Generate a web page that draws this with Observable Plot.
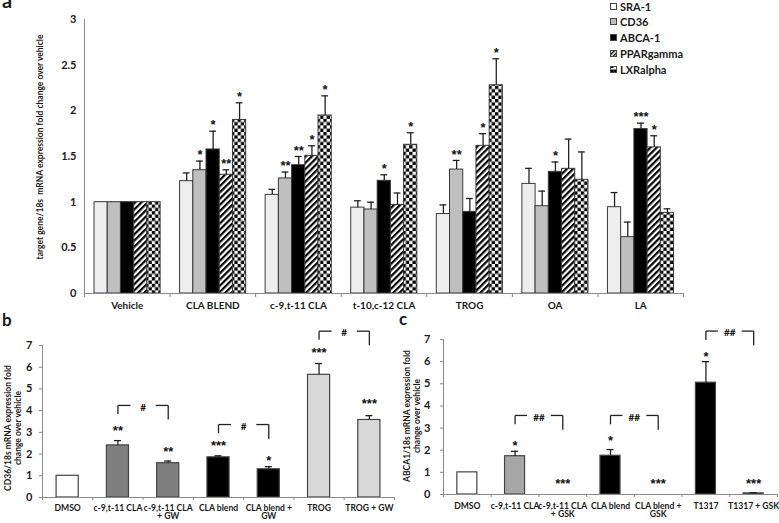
<!DOCTYPE html>
<html><head><meta charset="utf-8">
<script src="https://cdn.jsdelivr.net/npm/d3@7"></script>
<script src="https://cdn.jsdelivr.net/npm/@observablehq/plot@0.6"></script>
<style>
body{margin:0;background:#fff;font-family:Lato,sans-serif;color:#1a1a1a;}
#fig{position:relative;width:779px;height:523px;overflow:hidden;background:#fff;}
.panel{position:absolute;}
.plabel{position:absolute;font-weight:bold;font-family:Lato,sans-serif;line-height:1;}
.vlabel{position:absolute;transform:translate(-50%,-50%) rotate(-90deg);white-space:pre;text-align:center;font-weight:bold;font-family:Lato,sans-serif;}
.legend{position:absolute;left:610px;top:0;font:bold 11px Lato,sans-serif;}
.legend .row{position:absolute;left:0;height:14px;display:flex;align-items:center;white-space:nowrap;}
.legend svg{margin-right:3px;}
</style></head><body>
<svg width="0" height="0" style="position:absolute"><defs>
<pattern id="hatch" patternUnits="userSpaceOnUse" width="4.4" height="4.4" patternTransform="rotate(45)"><rect width="4.4" height="4.4" fill="#fff"/><rect width="2.2" height="4.4" fill="#000"/></pattern>
<pattern id="checker" patternUnits="userSpaceOnUse" width="6.6" height="6.6"><rect width="6.6" height="6.6" fill="#fff"/><rect width="3.3" height="3.3" fill="#000"/><rect x="3.3" y="3.3" width="3.3" height="3.3" fill="#000"/></pattern>
<pattern id="hatchS" patternUnits="userSpaceOnUse" width="3" height="3" patternTransform="rotate(45)"><rect width="3" height="3" fill="#fff"/><rect width="1.4" height="3" fill="#000"/></pattern>
<pattern id="checkerS" patternUnits="userSpaceOnUse" width="7" height="7"><rect width="7" height="7" fill="#fff"/><rect y="3.5" width="3.5" height="3.5" fill="#000"/><rect x="3.5" y="3.5" width="3.5" height="3.5" fill="#000"/><rect x="0" y="0" width="3.5" height="2" fill="#000"/></pattern>
</defs></svg>
<div id="fig"></div>
<script>
// ---------- Panel a data ----------
const categoriesA = ["Vehicle","CLA BLEND","c-9,t-11 CLA","t-10,c-12 CLA","TROG","OA","LA"];
const seriesA = ["SRA-1","CD36","ABCA-1","PPARgamma","LXRalpha"];
const sra1      = [1, 1.23, 1.08, 0.94, 0.87, 1.20, 0.945];
const sra1Err   = [0, 0.09, 0.06, 0.075, 0.10, 0.17, 0.16];
const cd36      = [1, 1.35, 1.26, 0.92, 1.357, 0.956, 0.617];
const cd36Err   = [0, 0.10, 0.07, 0.08, 0.10, 0.165, 0.165];
const abca1     = [1, 1.577, 1.405, 1.234, 0.894, 1.332, 1.80];
const abca1Err  = [0, 0.20, 0.095, 0.066, 0.146, 0.108, 0.065];
const pparg     = [1, 1.30, 1.507, 0.97, 1.617, 1.365, 1.60];
const ppargErr  = [0, 0.054, 0.11, 0.13, 0.133, 0.325, 0.127];
const lxra      = [1, 1.90, 1.949, 1.628, 2.28, 1.245, 0.883];
const lxraErr   = [0, 0.188, 0.215, 0.132, 0.29, 0.305, 0.044];
const sra1Sig   = ["","","","","","",""];
const cd36Sig   = ["","*","**","","**","",""];
const abca1Sig  = ["","*","**","*","","*","***"];
const ppargSig  = ["","**","*","","*","","*"];
const lxraSig   = ["","*","*","*","*","",""];
const yTicksA = [0, 0.5, 1, 1.5, 2, 2.5, 3];

// ---------- Panel b data ----------
const groupsB = ["DMSO","c-9,t-11 CLA","c-9,t-11 CLA\n+ GW","CLA blend","CLA blend +\nGW","TROG","TROG + GW"];
const valuesB = [1, 2.4, 1.58, 1.85, 1.3, 5.65, 3.57];
const errorsB = [0, 0.22, 0.1, 0.07, 0.12, 0.52, 0.2];
const sigB    = ["","**","**","***","*","***","***"];
const sigYB   = [0, 3.24, 2.27, 2.55, 1.86, 6.85, 4.5];
const bracketsB = [{from:1, to:2, y:4.24, label:"#"}, {from:3, to:4, y:3.36, label:"#"}, {from:5, to:6, y:7.66, label:"#"}];

// ---------- Panel c data ----------
const groupsC = ["DMSO","c-9,t-11 CLA","c-9,t-11 CLA\n+ GSK","CLA blend","CLA blend +\nGSK","T1317","T1317 + GSK"];
const valuesC = [1, 1.73, 0, 1.75, 0, 5.05, 0.05];
const errorsC = [0, 0.22, 0, 0.28, 0, 0.95, 0.03];
const sigC    = ["","*","***","*","***","*","***"];
const sigYC   = [0, 2.39, 0.68, 2.62, 0.68, 6.38, 0.68];
const bracketsC = [{from:1, to:2, y:3.57, label:"##"}, {from:3, to:4, y:3.57, label:"##"}, {from:5, to:6, y:7.38, label:"##"}];
const yTicksBC = [0,1,2,3,4,5,6,7];

// ---------- styles ----------
const fillsA = ["#eeeeee","#bfbfbf","#000000","url(#hatch)","url(#checker)"];
const swatchA = ["#ffffff","#bfbfbf","#000000","url(#hatchS)","url(#checkerS)"];
const colorsB = ["#ffffff","#7f7f7f","#7f7f7f","#000000","#000000","#d9d9d9","#d9d9d9"];
const colorsC = ["#ffffff","#a6a6a6","#a6a6a6","#000000","#000000","#000000","#000000"];
const AX = "#8a8a8a";
const TXT = "#1a1a1a";
const FONT = "Lato, sans-serif";
const STARFONT = "Liberation Sans, sans-serif";

function fontAvailable(name) {
  const c = document.createElement("canvas").getContext("2d");
  const s = "c-9,t-11 CLA BLEND mmmWWWiii";
  c.font = "bold 20px monospace"; const w1 = c.measureText(s).width;
  c.font = `bold 20px "${name}", monospace`; const w2 = c.measureText(s).width;
  return Math.abs(w1 - w2) > 0.5;
}
const hasNarrow = fontAvailable("Liberation Sans Narrow");
const NARROW = hasNarrow ? '"Liberation Sans Narrow", Lato, sans-serif' : FONT;
const smallXSize = hasNarrow ? 10 : 8.6;

const fig = document.getElementById("fig");
function place(el, left, top) { const d = document.createElement("div"); d.className = "panel"; d.style.left = left + "px"; d.style.top = top + "px"; d.appendChild(el); fig.appendChild(d); }
function addText(cls, text, css) { const d = document.createElement("div"); d.className = cls; d.textContent = text; Object.assign(d.style, css); fig.appendChild(d); }

// ---------- Panel a ----------
const vals = [sra1, cd36, abca1, pparg, lxra];
const errs = [sra1Err, cd36Err, abca1Err, ppargErr, lxraErr];
const sigs = [sra1Sig, cd36Sig, abca1Sig, ppargSig, lxraSig];
const groupStart = 0.117, barW = 0.1545, capA = 0.04;
const rowsA = [];
categoriesA.forEach((c, i) => seriesA.forEach((s, j) => {
  const x1 = i + groupStart + j * barW;
  rowsA.push({cat: c, series: s, x1, x2: x1 + barW, xc: x1 + barW / 2, v: vals[j][i], e: errs[j][i], sig: sigs[j][i], fill: fillsA[j]});
}));
const plotA = Plot.plot({
  width: 779, height: 318,
  marginLeft: 84, marginRight: 96, marginTop: 19, marginBottom: 25,
  x: {domain: [0, categoriesA.length]},
  y: {domain: [0, 3]},
  color: {type: "identity"},
  style: {fontFamily: FONT, fontSize: "11px", fontWeight: "bold", color: TXT, background: "transparent", overflow: "visible"},
  marks: [
    Plot.rect(rowsA, {x1: "x1", x2: "x2", y1: () => 0, y2: "v", fill: "fill", stroke: "#3a3a3a", strokeWidth: 1}),
    Plot.ruleX(rowsA.filter(d => d.e > 0), {x: "xc", y1: "v", y2: d => d.v + d.e, stroke: "#222", strokeWidth: 1.3}),
    Plot.ruleY(rowsA.filter(d => d.e > 0), {y: d => d.v + d.e, x1: d => d.xc - capA, x2: d => d.xc + capA, stroke: "#222", strokeWidth: 1.3}),
    Plot.text(rowsA.filter(d => d.sig), {x: "xc", y: d => d.v + d.e, text: "sig", dy: -6, fontSize: 13, fontWeight: "bold", fontFamily: STARFONT, fill: "#111", lineAnchor: "middle"}),
    Plot.ruleY([0], {stroke: AX}),
    Plot.ruleX([0], {stroke: AX}),
    Plot.axisY({ticks: yTicksA, tickSize: 0, tickPadding: 8, tickFormat: d3.format("~g"), label: null, fontSize: 11}),
    Plot.axisX({ticks: d3.range(0, categoriesA.length + 1), tickSize: 4, tickFormat: () => "", stroke: AX, label: null}),
    Plot.axisX({ticks: categoriesA.map((_, i) => i + 0.5), tickSize: 0, tickPadding: 8, tickFormat: d => categoriesA[Math.floor(d)], label: null, fontSize: 10})
  ]
});
place(plotA, 0, 0);

// ---------- Panels b, c ----------
function bracketSegments(brackets, dropL, dropR, frac) {
  const segs = [];
  for (const b of brackets) {
    const a = b.from + 0.5, c = b.to + 0.5, w = (c - a) * frac;
    segs.push({x1: a, y1: b.y - dropL, x2: a, y2: b.y});
    segs.push({x1: a, y1: b.y, x2: a + w, y2: b.y});
    segs.push({x1: c - w, y1: b.y, x2: c, y2: b.y});
    segs.push({x1: c, y1: b.y, x2: c, y2: b.y - dropR});
  }
  return segs;
}
function smallPanel(o) {
  const rows = o.groups.map((g, i) => ({g, i, v: o.values[i], e: o.errors[i], fill: o.colors[i], sig: o.sig[i], sy: o.sigY[i]}));
  const segs = bracketSegments(o.brackets, 0.4, 0.65, 0.25);
  return Plot.plot({
    width: o.width, height: o.height,
    marginLeft: o.ml, marginRight: o.mr, marginTop: o.mt, marginBottom: o.mb,
    x: {domain: [0, o.groups.length]},
    y: {domain: [0, 7]},
    color: {type: "identity"},
    style: {fontFamily: FONT, fontSize: "10px", fontWeight: "bold", color: TXT, background: "transparent", overflow: "visible"},
    marks: [
      Plot.rect(rows.filter(d => d.v > 0), {x1: d => d.i + 0.5 - o.barHalf, x2: d => d.i + 0.5 + o.barHalf, y1: () => 0, y2: "v", fill: "fill", stroke: "#444", strokeWidth: 1.2}),
      Plot.ruleX(rows.filter(d => d.e > 0), {x: d => d.i + 0.5, y1: "v", y2: d => d.v + d.e, stroke: "#222", strokeWidth: 1.3}),
      Plot.ruleY(rows.filter(d => d.e > 0), {y: d => d.v + d.e, x1: d => d.i + 0.5 - o.cap, x2: d => d.i + 0.5 + o.cap, stroke: "#222", strokeWidth: 1.3}),
      Plot.text(rows.filter(d => d.sig), {x: d => d.i + 0.5, y: "sy", text: "sig", dy: 4, fontSize: 13, fontWeight: "bold", fontFamily: STARFONT, fill: "#111", lineAnchor: "middle"}),
      Plot.link(segs, {x1: "x1", y1: "y1", x2: "x2", y2: "y2", stroke: "#222", strokeWidth: 1.3}),
      Plot.text(o.brackets, {x: d => (d.from + d.to) / 2 + 0.5, y: "y", text: "label", dy: 2, fontSize: 10, fontWeight: "bold", fill: "#111", lineAnchor: "middle"}),
      Plot.ruleY([0], {stroke: AX}),
      Plot.ruleX([0], {stroke: AX}),
      Plot.axisY({ticks: yTicksBC, tickSize: 3, tickPadding: o.ypad, stroke: AX, tickFormat: d3.format("d"), label: null, fontSize: 11}),
      Plot.axisX({ticks: d3.range(0, o.groups.length + 1), tickSize: 3, tickFormat: () => "", stroke: AX, label: null}),
      Plot.axisX({ticks: o.groups.map((_, i) => i + 0.5), tickSize: 0, tickPadding: o.xpad, tickFormat: d => o.groups[Math.floor(d)], label: null, fontSize: smallXSize, fontFamily: NARROW, lineHeight: 1.0})
    ]
  });
}
place(smallPanel({groups: groupsB, values: valuesB, errors: errorsB, colors: colorsB, sig: sigB, sigY: sigYB, brackets: bracketsB,
  width: 400, height: 205, ml: 42, mr: 6, mt: 27, mb: 26, barHalf: 0.22, cap: 0.07, ypad: 7, xpad: 7}), 0, 318);
place(smallPanel({groups: groupsC, values: valuesC, errors: errorsC, colors: colorsC, sig: sigC, sigY: sigYC, brackets: bracketsC,
  width: 389, height: 205, ml: 53, mr: 2, mt: 21, mb: 29, barHalf: 0.21, cap: 0.075, ypad: 10, xpad: 8}), 390, 318);

// ---------- labels ----------
addText("plabel", "a", {left: "2px", top: "-10px", fontSize: "20px"});
addText("plabel", "b", {left: "2px", top: "311px", fontSize: "17px"});
addText("plabel", "c", {left: "399px", top: "310px", fontSize: "17px"});
addText("vlabel", "target gene/18s  mRNA expression fold change over vehicle", {left: "40px", top: "147px", fontSize: "8.5px"});
addText("vlabel", "CD36/18s mRNA expression fold\nchange over vehicle", {left: "13px", top: "428px", fontSize: "8.5px", lineHeight: "10px"});
addText("vlabel", "ABCA1/18s mRNA expression fold\nchange over vehicle", {left: "412px", top: "416px", fontSize: "8.5px", lineHeight: "10px"});

// ---------- legend ----------
const leg = document.createElement("div"); leg.className = "legend";
seriesA.forEach((s, j) => {
  const row = document.createElement("div"); row.className = "row";
  row.style.top = (-1 + j * 15.8) + "px";
  const sw = d3.create("svg").attr("width", 7).attr("height", 7);
  sw.append("rect").attr("x", 0.5).attr("y", 0.5).attr("width", 6).attr("height", 6).attr("fill", swatchA[j]).attr("stroke", "#444").attr("stroke-width", 1);
  row.appendChild(sw.node());
  const t = document.createElement("span"); t.textContent = s; row.appendChild(t);
  leg.appendChild(row);
});
fig.appendChild(leg);
</script>
</body></html>
